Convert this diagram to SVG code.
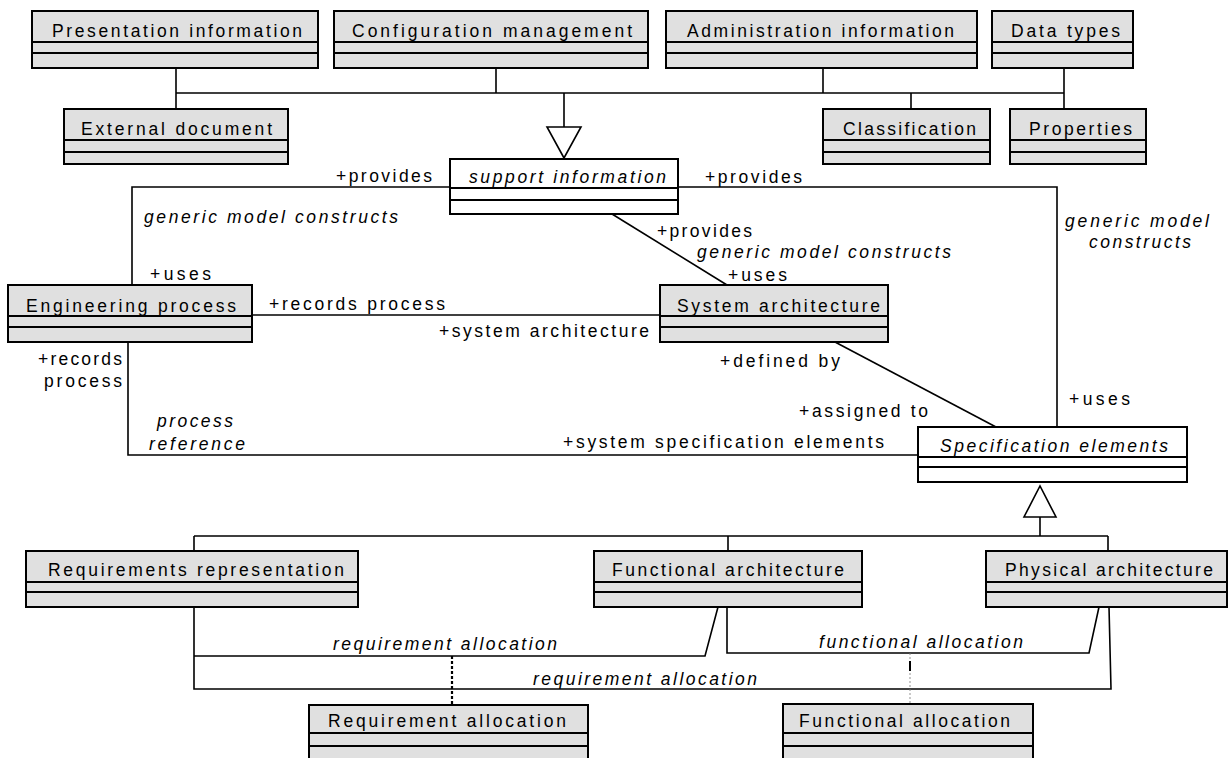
<svg xmlns="http://www.w3.org/2000/svg" width="1228" height="758" viewBox="0 0 1228 758">
<style>
  .box { fill: #e0e0e0; stroke: #000; stroke-width: 2; }
  .wbox { fill: #ffffff; stroke: #000; stroke-width: 2; }
  .div { stroke: #000; stroke-width: 2; }
  .t { font-family: "Liberation Sans", Arial, sans-serif; font-size: 17.5px; fill: #000; }
  .i { font-style: italic; }
  .c { fill: none; stroke: #000; stroke-width: 1.6; }
  .tri { fill: #fff; stroke: #000; stroke-width: 1.6; }
</style>
<rect width="1228" height="758" fill="#fff"/>

<g id="connectors">
  <path class="c" d="M176,68 V93 M496,68 V93 M823,68 V93 M1064,68 V109 M176,93 H1064 M176,93 V109 M911,93 V109 M564,93 V127"/>
  <polygon class="tri" points="547,127 581,127 564,158"/>
  <path class="c" d="M450,187 H132 V285"/>
  <path class="c" d="M678,187 H1057 V427"/>
  <path class="c" d="M612,214 L727,285"/>
  <path class="c" d="M252,315 H660"/>
  <path class="c" d="M128,342 V455 H918"/>
  <path class="c" d="M835,342 L996,427"/>
  <polygon class="tri" points="1024,517 1056,517 1040,486"/>
  <path class="c" d="M1040,517 V536 M194,536 H1108 M194,536 V551 M728,536 V551 M1108,536 V551"/>
  <path class="c" d="M194,607 V689 H1111 L1109,607"/>
  <path class="c" d="M194,656 H705 L718,607"/>
  <path class="c" d="M727,607 V653 H1089 L1099,607"/>
  <path d="M452,656 V705" fill="none" stroke="#000" stroke-width="2.2" stroke-dasharray="3,2"/>
  <path d="M910,653 V704" fill="none" stroke="#777" stroke-width="0.8" stroke-dasharray="2,2"/>
  <path d="M910,661 V671" fill="none" stroke="#000" stroke-width="2"/>
  <text class="t" x="336" y="182" textLength="96" lengthAdjust="spacing">+provides</text>
  <text class="t i" x="144" y="223" textLength="254" lengthAdjust="spacing">generic model constructs</text>
  <text class="t" x="150" y="280" textLength="61" lengthAdjust="spacing">+uses</text>
  <text class="t" x="269" y="310" textLength="176" lengthAdjust="spacing">+records process</text>
  <text class="t" x="439" y="337" textLength="210" lengthAdjust="spacing">+system architecture</text>
  <text class="t" x="705" y="183" textLength="97" lengthAdjust="spacing">+provides</text>
  <text class="t i" x="1065" y="227" textLength="144" lengthAdjust="spacing">generic model</text>
  <text class="t i" x="1089" y="248" textLength="102" lengthAdjust="spacing">constructs</text>
  <text class="t" x="657" y="237" textLength="95" lengthAdjust="spacing">+provides</text>
  <text class="t i" x="697" y="258" textLength="254" lengthAdjust="spacing">generic model constructs</text>
  <text class="t" x="728" y="281" textLength="59" lengthAdjust="spacing">+uses</text>
  <text class="t" x="38" y="365" textLength="84" lengthAdjust="spacing">+records</text>
  <text class="t" x="44" y="387" textLength="78" lengthAdjust="spacing">process</text>
  <text class="t i" x="157" y="427" textLength="76" lengthAdjust="spacing">process</text>
  <text class="t i" x="149" y="450" textLength="96" lengthAdjust="spacing">reference</text>
  <text class="t" x="563" y="448" textLength="321" lengthAdjust="spacing">+system specification elements</text>
  <text class="t" x="720" y="367" textLength="120" lengthAdjust="spacing">+defined by</text>
  <text class="t" x="799" y="417" textLength="129" lengthAdjust="spacing">+assigned to</text>
  <text class="t" x="1069" y="405" textLength="61" lengthAdjust="spacing">+uses</text>
  <text class="t i" x="333" y="650" textLength="224" lengthAdjust="spacing">requirement allocation</text>
  <text class="t i" x="533" y="685" textLength="224" lengthAdjust="spacing">requirement allocation</text>
  <text class="t i" x="819" y="648" textLength="204" lengthAdjust="spacing">functional allocation</text>
</g>

<g id="presentation-information">
  <rect class="box" x="32" y="11" width="286" height="57"/>
  <path class="div" d="M32,42 H318 M32,53 H318"/>
  <text class="t" x="52" y="37" textLength="250" lengthAdjust="spacing">Presentation information</text>
</g>
<g id="configuration-management">
  <rect class="box" x="334" y="11" width="314" height="57"/>
  <path class="div" d="M334,42 H648 M334,53 H648"/>
  <text class="t" x="352" y="37" textLength="280" lengthAdjust="spacing">Configuration management</text>
</g>
<g id="administration-information">
  <rect class="box" x="666" y="11" width="311" height="57"/>
  <path class="div" d="M666,42 H977 M666,53 H977"/>
  <text class="t" x="687" y="37" textLength="267" lengthAdjust="spacing">Administration information</text>
</g>
<g id="data-types">
  <rect class="box" x="992" y="11" width="141" height="57"/>
  <path class="div" d="M992,42 H1133 M992,53 H1133"/>
  <text class="t" x="1011" y="37" textLength="109" lengthAdjust="spacing">Data types</text>
</g>
<g id="external-document">
  <rect class="box" x="64" y="109" width="224" height="55"/>
  <path class="div" d="M64,140 H288 M64,152 H288"/>
  <text class="t" x="81" y="135" textLength="191" lengthAdjust="spacing">External document</text>
</g>
<g id="classification">
  <rect class="box" x="823" y="109" width="167" height="55"/>
  <path class="div" d="M823,140 H990 M823,152 H990"/>
  <text class="t" x="843" y="135" textLength="133" lengthAdjust="spacing">Classification</text>
</g>
<g id="properties">
  <rect class="box" x="1010" y="109" width="136" height="55"/>
  <path class="div" d="M1010,140 H1146 M1010,152 H1146"/>
  <text class="t" x="1029" y="135" textLength="103" lengthAdjust="spacing">Properties</text>
</g>
<g id="support-information">
  <rect class="wbox" x="450" y="159" width="228" height="55"/>
  <path class="div" d="M450,188 H678 M450,200 H678"/>
  <text class="t i" x="469" y="183" textLength="197" lengthAdjust="spacing">support information</text>
</g>
<g id="engineering-process">
  <rect class="box" x="8" y="285" width="244" height="57"/>
  <path class="div" d="M8,316 H252 M8,327 H252"/>
  <text class="t" x="26" y="312" textLength="210" lengthAdjust="spacing">Engineering process</text>
</g>
<g id="system-architecture">
  <rect class="box" x="660" y="285" width="228" height="57"/>
  <path class="div" d="M660,316 H888 M660,327 H888"/>
  <text class="t" x="677" y="312" textLength="203" lengthAdjust="spacing">System architecture</text>
</g>
<g id="specification-elements">
  <rect class="wbox" x="918" y="427" width="269" height="55"/>
  <path class="div" d="M918,457 H1187 M918,467 H1187"/>
  <text class="t i" x="940" y="452" textLength="228" lengthAdjust="spacing">Specification elements</text>
</g>
<g id="requirements-representation">
  <rect class="box" x="26" y="551" width="332" height="56"/>
  <path class="div" d="M26,582 H358 M26,592 H358"/>
  <text class="t" x="48" y="576" textLength="296" lengthAdjust="spacing">Requirements representation</text>
</g>
<g id="functional-architecture">
  <rect class="box" x="594" y="551" width="268" height="56"/>
  <path class="div" d="M594,582 H862 M594,592 H862"/>
  <text class="t" x="612" y="576" textLength="232" lengthAdjust="spacing">Functional architecture</text>
</g>
<g id="physical-architecture">
  <rect class="box" x="986" y="551" width="241" height="56"/>
  <path class="div" d="M986,582 H1227 M986,592 H1227"/>
  <text class="t" x="1005" y="576" textLength="208" lengthAdjust="spacing">Physical architecture</text>
</g>
<g id="requirement-allocation">
  <rect class="box" x="309" y="705" width="279" height="70"/>
  <path class="div" d="M309,733 H588 M309,746 H588"/>
  <text class="t" x="328" y="727" textLength="238" lengthAdjust="spacing">Requirement allocation</text>
</g>
<g id="functional-allocation">
  <rect class="box" x="783" y="704" width="250" height="70"/>
  <path class="div" d="M783,733 H1033 M783,746 H1033"/>
  <text class="t" x="799" y="727" textLength="211" lengthAdjust="spacing">Functional allocation</text>
</g>
</svg>
